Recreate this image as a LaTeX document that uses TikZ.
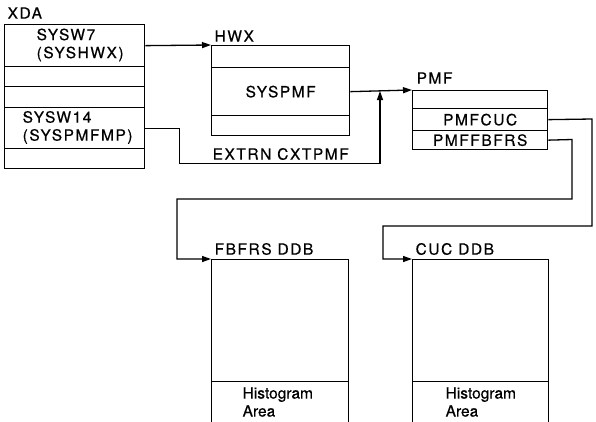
\documentclass[tikz,border=0pt]{standalone}
\usepackage{fontspec}
\setmainfont{TeX Gyre Heros}
\usetikzlibrary{arrows.meta}
\begin{document}
\begin{tikzpicture}[x=1pt,y=-1pt,
  line width=1.3pt,
  font=\fontsize{15.5}{18}\selectfont\addfontfeature{FakeBold=0.5},
  caps/.style={font=\fontsize{15.5}{18}\selectfont\addfontfeature{LetterSpace=10,FakeBold=0.5}},
  row/.style={draw, rectangle, inner sep=0pt, anchor=north west, minimum width=#1},
  lbl/.style={caps, inner sep=0pt, anchor=west},
  conn/.style={-{Triangle[length=9pt,width=6pt]}, line width=1.3pt},
]
\useasboundingbox (0,0) rectangle (596,421);
% XDA
\node[lbl] (xdal) at (7,13) {XDA};
\node[row=140pt, minimum height=42pt] (x1) at (4,24) {};
\node[row=140pt, minimum height=20pt] (x2) at (4,66) {};
\node[row=140pt, minimum height=21pt] (x3) at (4,86) {};
\node[row=140pt, minimum height=41pt] (x4) at (4,107) {};
\node[row=140pt, minimum height=20pt] (x5) at (4,148) {};
\node[caps, inner sep=0pt, anchor=west, align=left] (x1t) at (36,45) {SYSW7\\(SYSHWX)};
\node[caps, inner sep=0pt, anchor=west, align=left] (x4t) at (22,127.5) {SYSW14\\(SYSPMFMP)};
% HWX
\node[lbl] (hwxl) at (214,36) {HWX};
\node[row=138pt, minimum height=22pt] (h1) at (211,45) {};
\node[row=138pt, minimum height=48pt, caps] (h2) at (211,67) {SYSPMF};
\node[row=138pt, minimum height=20pt] (h3) at (211,115) {};
% PMF
\node[lbl] (pmfl) at (416,78) {PMF};
\node[row=135pt, minimum height=18pt] (p1) at (412,90) {};
\node[row=135pt, minimum height=22pt, caps] (p2) at (412,108) {PMFCUC};
\node[row=135pt, minimum height=19pt, caps] (p3) at (412,130) {PMFFBFRS};
% FBFRS DDB
\node[lbl] (fl) at (214,249) {FBFRS DDB};
\node[row=137pt, minimum height=122pt] (f1) at (211,259) {};
\node[row=137pt, minimum height=42pt] (f2) at (211,381) {};
\node[inner sep=0pt, anchor=west, align=left] (ft) at (242,402) {Histogram\\Area};
% CUC DDB
\node[lbl] (cl) at (415,249) {CUC DDB};
\node[row=136pt, minimum height=122pt] (c1) at (412,259) {};
\node[row=136pt, minimum height=42pt] (c2) at (412,381) {};
\node[inner sep=0pt, anchor=west, align=left] (ct) at (445,402) {Histogram\\Area};
% EXTRN label
\node[lbl] (ext) at (212,154) {EXTRN CXTPMF};
% connectors
\coordinate (j) at (380,91);
\draw[conn] (x1.east) -- (h1.north west);
\draw[conn] (h2.east) -- (p1.north west);
\draw[conn] (x4.east) -- ++(34,0) |- (380,163.5) -- (j);
\draw[conn] (p2.east) -- (592,119) -- (592,226) -- (383,226) |- (c1.north west);
\draw[conn] (p3.east) -- (572,139.5) -- (572,199) -- (177,199) |- (f1.north west);
\end{tikzpicture}
\end{document}
